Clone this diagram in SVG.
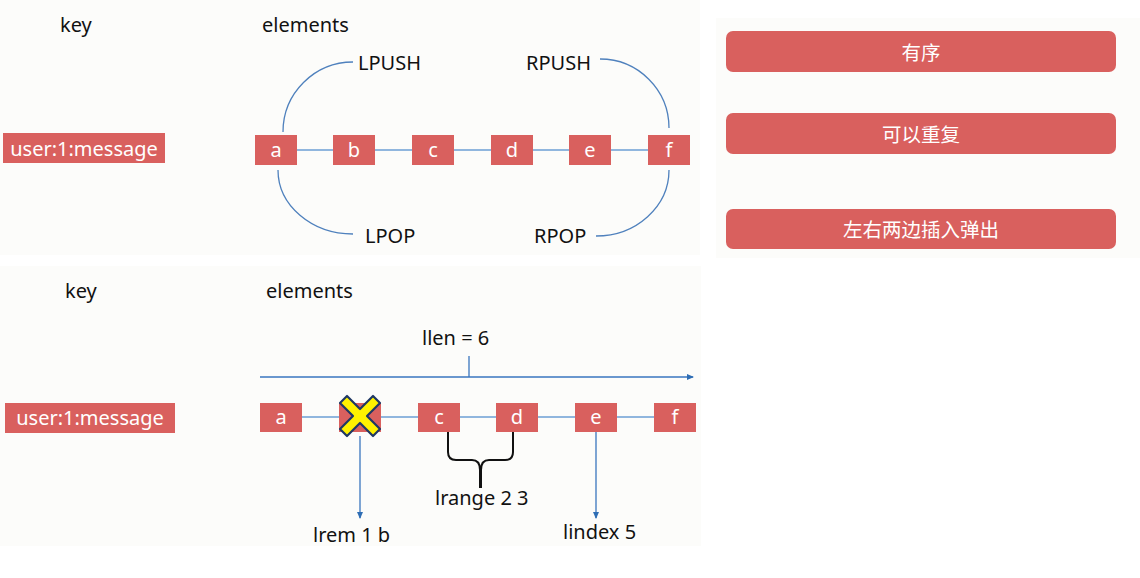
<svg xmlns="http://www.w3.org/2000/svg" width="1140" height="578" viewBox="0 0 1140 578">
<defs>
<style>
.panel{fill:#fcfcfa}
.box{fill:#d9605e}
.lbl{font-family:"Noto Sans","Liberation Sans",sans-serif;font-size:20px;fill:#111}
.wt{font-family:"Noto Sans","Liberation Sans",sans-serif;font-size:20px;fill:#fff;text-anchor:middle}
.cjk{font-family:"Noto Sans","Noto Sans CJK SC",sans-serif;font-size:19.5px;fill:#fff;text-anchor:middle}
.link{stroke:#6d9fd4;stroke-width:1.5;fill:none}
.arc{stroke:#4f81bd;stroke-width:1.3;fill:none}
.arr{stroke:#3a76bf;stroke-width:1.3;fill:none}
</style>
<marker id="ah" markerWidth="8" markerHeight="8" refX="6" refY="4" orient="auto" markerUnits="userSpaceOnUse">
<path d="M0,1 L7,4 L0,7 Z" fill="#2e6db4"/>
</marker>
</defs>
<rect width="1140" height="578" fill="#ffffff"/>
<rect class="panel" x="0" y="0" width="700" height="255"/>
<rect class="panel" x="716" y="18" width="424" height="240"/>
<rect class="panel" x="0" y="266" width="701" height="280"/>

<!-- top section headers -->
<g id="top-headers">
<text class="lbl" x="60" y="32">key</text>
<text class="lbl" x="262" y="32">elements</text>
</g>

<g id="connectors">
<line class="link" x1="276" y1="150" x2="669" y2="150"/>
<path class="arc" d="M283,132 A70,70 0 0 1 353,62"/>
<path class="arc" d="M278,170 A75,64 0 0 0 353,234"/>
<path class="arc" d="M600,59 A69,69 0 0 1 669,128"/>
<path class="arc" d="M596,236 A73,66 0 0 0 669,170"/>
<line class="link" x1="281" y1="417" x2="675" y2="417"/>
<line class="arr" x1="260" y1="377" x2="693" y2="377" marker-end="url(#ah)"/>
<line class="arr" x1="469" y1="356" x2="469" y2="377"/>
<line class="arr" x1="360" y1="436" x2="360" y2="518" marker-end="url(#ah)"/>
<line class="arr" x1="596" y1="432" x2="596" y2="518" marker-end="url(#ah)"/>
<path d="M448,432 L448,452 Q448,460 456,460 L472,460 Q480,460 480,470 L480,488 M513,432 L513,452 Q513,460 505,460 L489,460 Q481,460 481,470 L481,488" stroke="#111" stroke-width="2" fill="none"/>
</g>

<g id="top-key"><rect class="box" x="3" y="133" width="162" height="30"/><text class="wt" x="84" y="156">user:1:message</text></g>
<g id="top-a"><rect class="box" x="255" y="135" width="42" height="30"/><text class="wt" x="276" y="157">a</text></g>
<g id="top-b"><rect class="box" x="333" y="135" width="42" height="30"/><text class="wt" x="354" y="157">b</text></g>
<g id="top-c"><rect class="box" x="412" y="135" width="42" height="30"/><text class="wt" x="433" y="157">c</text></g>
<g id="top-d"><rect class="box" x="491" y="135" width="42" height="30"/><text class="wt" x="512" y="157">d</text></g>
<g id="top-e"><rect class="box" x="569" y="135" width="42" height="30"/><text class="wt" x="590" y="157">e</text></g>
<g id="top-f"><rect class="box" x="648" y="135" width="42" height="30"/><text class="wt" x="669" y="157">f</text></g>

<g id="top-labels">
<text class="lbl" x="358" y="70">LPUSH</text>
<text class="lbl" x="526" y="70">RPUSH</text>
<text class="lbl" x="365" y="243">LPOP</text>
<text class="lbl" x="534" y="243">RPOP</text>
</g>

<g id="feature-ordered"><rect class="box" x="726" y="31" width="390" height="41" rx="7"/><text class="cjk" x="921" y="60">有序</text></g>
<g id="feature-repeat"><rect class="box" x="726" y="113" width="390" height="41" rx="7"/><text class="cjk" x="921" y="142">可以重复</text></g>
<g id="feature-both-ends"><rect class="box" x="726" y="209" width="390" height="40" rx="7"/><text class="cjk" x="921" y="237">左右两边插入弹出</text></g>

<!-- bottom section -->
<g id="bottom-headers">
<text class="lbl" x="65" y="298">key</text>
<text class="lbl" x="266" y="298">elements</text>
<text class="lbl" x="422" y="345">llen = 6</text>
</g>
<g id="bottom-key"><rect class="box" x="5" y="403" width="170" height="30"/><text class="wt" x="90" y="425">user:1:message</text></g>
<g id="bottom-a"><rect class="box" x="260" y="403" width="42" height="29"/><text class="wt" x="281" y="424">a</text></g>
<g id="bottom-b"><rect class="box" x="339" y="403" width="42" height="29"/>
<polygon points="340,403 347,396 360,409 373,396 380,403 367,416 380,429 373,436 360,423 347,436 340,429 353,416" fill="#fff200" stroke="#1f3864" stroke-width="2.2" stroke-linejoin="round"/></g>
<g id="bottom-c"><rect class="box" x="418" y="403" width="42" height="29"/><text class="wt" x="439" y="424">c</text></g>
<g id="bottom-d"><rect class="box" x="496" y="403" width="42" height="29"/><text class="wt" x="517" y="424">d</text></g>
<g id="bottom-e"><rect class="box" x="575" y="403" width="42" height="29"/><text class="wt" x="596" y="424">e</text></g>
<g id="bottom-f"><rect class="box" x="654" y="403" width="42" height="29"/><text class="wt" x="675" y="424">f</text></g>
<g id="bottom-labels">
<text class="lbl" x="313" y="542">lrem 1 b</text>
<text class="lbl" x="435" y="505">lrange 2 3</text>
<text class="lbl" x="563" y="539">lindex 5</text>
</g>
</svg>
